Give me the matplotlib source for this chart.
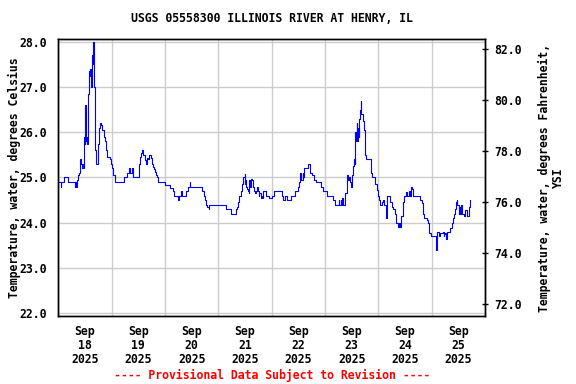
import numpy as np
import pandas as pd
import matplotlib
matplotlib.use("Agg")
import matplotlib.pyplot as plt
import matplotlib.dates as mdates
from matplotlib.ticker import FixedLocator, FuncFormatter

# === DATA ===
# hours since 2025-09-18 00:00 and water temperature, deg C
hours = [
    0.0, 0.85, 1.1, 1.4, 2.1, 2.6, 3.9, 4.4, 7.1, 7.4, 7.7, 8.0, 8.1, 8.6, 8.9,
    9.3, 9.6, 9.9, 10.4, 10.7, 11.1, 11.4, 11.55, 11.9, 12.2, 12.45, 12.8, 13.1,
    13.35, 13.8, 14.1, 14.4, 14.7, 15.0, 15.3, 15.6, 15.8, 16.0, 16.4, 16.8,
    17.6, 17.8, 18.5, 18.9, 19.4, 19.8, 20.4, 20.85, 21.3, 21.75, 23.1, 23.9,
    24.1, 24.6, 25.35, 29.5, 29.75, 30.6, 31.05, 31.6, 32.1, 33.1, 33.6, 35.8,
    36.3, 36.45, 36.8, 37.35, 37.6, 38.1, 38.8, 39.1, 39.6, 39.95, 40.3, 40.6,
    41.2, 41.5, 42.1, 42.6, 43.1, 43.6, 44.1, 44.5, 44.8, 47.8, 48.1, 50.1,
    50.4, 51.55, 52.0, 53.5, 53.8, 54.1, 55.0, 55.3, 55.8, 57.6, 58.3, 59.05,
    59.4, 64.3, 64.6, 65.5, 65.8, 66.6, 67.0, 67.6, 68.0, 75.2, 75.5, 77.8,
    77.9, 79.7, 80.0, 80.3, 80.8, 81.2, 81.5, 82.3, 82.7, 83.3, 83.8, 84.0,
    84.2, 84.5, 84.8, 85.25, 85.7, 86.0, 86.3, 86.6, 87.2, 87.5, 88.0, 88.5,
    89.0, 89.3, 89.75, 90.2, 90.5, 91.3, 91.7, 92.0, 92.3, 93.2, 93.5, 94.7,
    95.0, 95.8, 96.2, 97.25, 97.7, 100.3, 100.7, 101.3, 102.0, 102.8, 104.3,
    104.8, 106.2, 106.55, 107.7, 108.2, 108.7, 109.25, 110.0, 110.3, 110.7,
    111.8, 112.2, 113.0, 113.3, 114.2, 114.8, 115.2, 116.0, 117.8, 118.2, 119.3,
    120.5, 120.8, 122.7, 123.45, 124.2, 124.7, 125.7, 126.15, 126.5, 127.2,
    127.4, 127.8, 128.3, 129.2, 129.7, 130.2, 130.6, 131.4, 131.85, 132.2,
    132.4, 132.9, 133.3, 133.5, 133.65, 134.0, 134.2, 134.55, 134.9, 135.1,
    135.45, 135.8, 136.0, 136.35, 136.9, 137.4, 138.0, 138.15, 138.5, 140.3,
    140.7, 141.0, 142.2, 142.6, 143.2, 143.8, 144.1, 144.4, 144.9, 145.65,
    145.9, 146.4, 147.0, 147.45, 147.7, 148.9, 149.25, 150.15, 150.7, 151.6,
    151.9, 152.7, 153.1, 153.7, 154.2, 154.9, 155.2, 155.7, 156.4, 156.7,
    157.0, 157.6, 158.2, 158.7, 159.1, 159.4, 162.4, 162.7, 163.6, 163.9,
    164.2, 164.7, 165.7, 166.15, 166.6, 166.9, 167.7, 169.6, 169.9, 170.2,
    170.6, 171.1, 171.7, 172.6, 172.9, 173.4, 173.65, 174.1, 174.4, 174.8,
    175.6, 176.2, 177.1, 177.4, 177.7, 178.1, 178.6, 178.9, 179.2, 179.6,
    180.1, 180.4, 180.7, 181.2, 181.6, 182.6, 183.1, 183.7, 184.1, 184.6,
    184.9, 185.2,
]
temp_c = [
    24.9, 24.9, 24.8, 24.9, 24.9, 25.0, 25.0, 24.9, 24.9, 24.8, 24.9, 24.9, 24.8,
    24.95, 25.05, 25.1, 25.2, 25.4, 25.3, 25.2, 25.3, 25.2, 25.9, 25.75, 26.6,
    25.8, 25.9, 25.75, 26.85, 27.35, 27.25, 27.4, 27.0, 27.3, 27.7, 27.5, 28.0,
    27.0, 25.6, 25.3, 25.3, 25.75, 26.1, 26.2, 26.15, 26.05, 25.9, 25.8, 25.6,
    25.45, 25.4, 25.3, 25.2, 25.05, 24.9, 24.9, 25.0, 25.0, 25.1, 25.2, 25.1,
    25.2, 25.0, 25.0, 25.15, 25.3, 25.45, 25.53, 25.6, 25.5, 25.45, 25.38, 25.3,
    25.42, 25.4, 25.5, 25.5, 25.42, 25.3, 25.23, 25.18, 25.12, 25.05, 25.0,
    24.9, 24.9, 24.83, 24.83, 24.77, 24.7, 24.6, 24.6, 24.5, 24.6, 24.6, 24.7,
    24.6, 24.7, 24.8, 24.9, 24.8, 24.8, 24.7, 24.6, 24.5, 24.4, 24.35, 24.3,
    24.4, 24.4, 24.3, 24.3, 24.2, 24.2, 24.3, 24.35, 24.45, 24.5, 24.6, 24.7,
    24.85, 25.0, 25.08, 24.85, 24.95, 24.8, 24.75, 24.7, 24.65, 24.95, 24.8,
    24.97, 24.95, 24.8, 24.7, 24.65, 24.7, 24.8, 24.7, 24.6, 24.65, 24.55, 24.6,
    24.55, 24.7, 24.7, 24.6, 24.6, 24.55, 24.55, 24.6, 24.7, 24.7, 24.7, 24.6,
    24.5, 24.6, 24.5, 24.5, 24.6, 24.6, 24.7, 24.8, 24.9, 25.1, 24.95, 25.1,
    25.0, 25.2, 25.2, 25.3, 25.3, 25.1, 25.05, 25.05, 24.95, 24.9, 24.9, 24.8,
    24.7, 24.7, 24.6, 24.6, 24.5, 24.5, 24.4, 24.4, 24.5, 24.4, 24.5, 24.4,
    24.55, 24.4, 24.65, 25.05, 24.95, 25.0, 24.9, 24.8, 25.05, 25.25, 25.4,
    25.3, 25.65, 26.0, 25.8, 26.2, 25.8, 26.1, 25.9, 26.3, 26.5, 26.7, 26.4,
    26.25, 26.05, 26.0, 25.5, 25.4, 25.4, 25.1, 25.0, 25.0, 24.85, 24.72, 24.6,
    24.5, 24.5, 24.4, 24.45, 24.5, 24.4, 24.4, 24.1, 24.6, 24.6, 24.45, 24.35,
    24.3, 24.2, 24.0, 23.9, 24.0, 23.9, 24.15, 24.35, 24.45, 24.6, 24.68,
    24.58, 24.6, 24.7, 24.6, 24.8, 24.75, 24.6, 24.6, 24.5, 24.43, 24.3, 24.2,
    24.1, 24.05, 24.0, 23.85, 23.77, 23.7, 23.7, 23.4, 23.72, 23.8, 23.7, 23.78,
    23.78, 23.8, 23.7, 23.75, 23.78, 23.65, 23.8, 23.8, 23.88, 24.0, 24.05,
    24.1, 24.2, 24.3, 24.45, 24.5, 24.4, 24.2, 24.35, 24.2, 24.4, 24.2, 24.15,
    24.28, 24.28, 24.15, 24.28, 24.35, 24.5,
]
start = pd.Timestamp("2025-09-18")
days = pd.date_range("2025-09-18", "2025-09-26", freq="D")
left_ticks = [22, 23, 24, 25, 26, 27, 28]
right_ticks = [72, 74, 76, 78, 80, 82]

TITLE = "USGS 05558300 ILLINOIS RIVER AT HENRY, IL"
MONO = "DejaVu Sans Mono"


def main():
    times = start + pd.to_timedelta(hours, unit="h")

    fig = plt.figure(figsize=(5.76, 3.84), dpi=100)
    ax = fig.add_axes([0.1012, 0.1779, 0.7408, 0.7198])

    ax.plot(times, temp_c, color="#0000ff", lw=0.8, drawstyle="steps-post")

    ax.set_xlim(days[0], days[-1])
    ax.set_ylim(21.947, 28.053)

    # grid at midnight, labels at noon
    ax.xaxis.set_major_locator(FixedLocator(mdates.date2num(days)))
    ax.xaxis.set_major_formatter(FuncFormatter(lambda v, p: ""))
    noons = days[:-1] + pd.Timedelta(hours=12)
    ax.xaxis.set_minor_locator(FixedLocator(mdates.date2num(noons)))
    ax.xaxis.set_minor_formatter(
        FuncFormatter(lambda v, p: mdates.num2date(v).strftime("%b\n%d\n%Y")))
    ax.tick_params(axis="x", which="both", length=0, pad=7)
    for lab in ax.get_xticklabels(minor=True):
        lab.set_fontfamily(MONO)
        lab.set_fontweight("bold")
        lab.set_fontsize(8.3)
        lab.set_linespacing(1.1)

    ax.set_yticks(left_ticks)
    ax.set_yticklabels([f"{v:.1f}" for v in left_ticks], fontfamily=MONO,
                       fontweight="bold", fontsize=8.3)
    ax.tick_params(axis="y", length=0, pad=8)

    ax.grid(True, which="major", color="#cccccc", lw=1.0)
    ax.set_axisbelow(True)

    ax2 = ax.twinx()
    ax2.set_ylim(71.55, 82.39)
    ax2.set_yticks(right_ticks)
    ax2.set_yticklabels([f"{v:.1f}" for v in right_ticks], fontfamily=MONO,
                        fontweight="bold", fontsize=8.3)
    ax2.tick_params(axis="y", length=4, direction="inout", pad=5, width=1)

    for a in (ax, ax2):
        for s in a.spines.values():
            s.set_color("black")
            s.set_linewidth(1.0)

    txt = dict(fontfamily=MONO, fontweight="bold", fontsize=8.3)
    fig.text(272 / 576, 1 - 19 / 384, TITLE, ha="center", va="center", **txt)
    fig.text(14 / 576, 0.5378, "Temperature, water, degrees Celsius",
             rotation=90, ha="center", va="center", **txt)
    fig.text(551 / 576, 0.5378, "Temperature, water, degrees Fahrenheit,\nYSI",
             rotation=90, ha="center", va="center", multialignment="center",
             linespacing=1.1, **txt)
    fig.text(272 / 576, 1 - 375 / 384,
             "---- Provisional Data Subject to Revision ----",
             ha="center", va="center", color="red", **txt)

    fig.savefig("out.png", dpi=100)


if __name__ == "__main__":
    main()
